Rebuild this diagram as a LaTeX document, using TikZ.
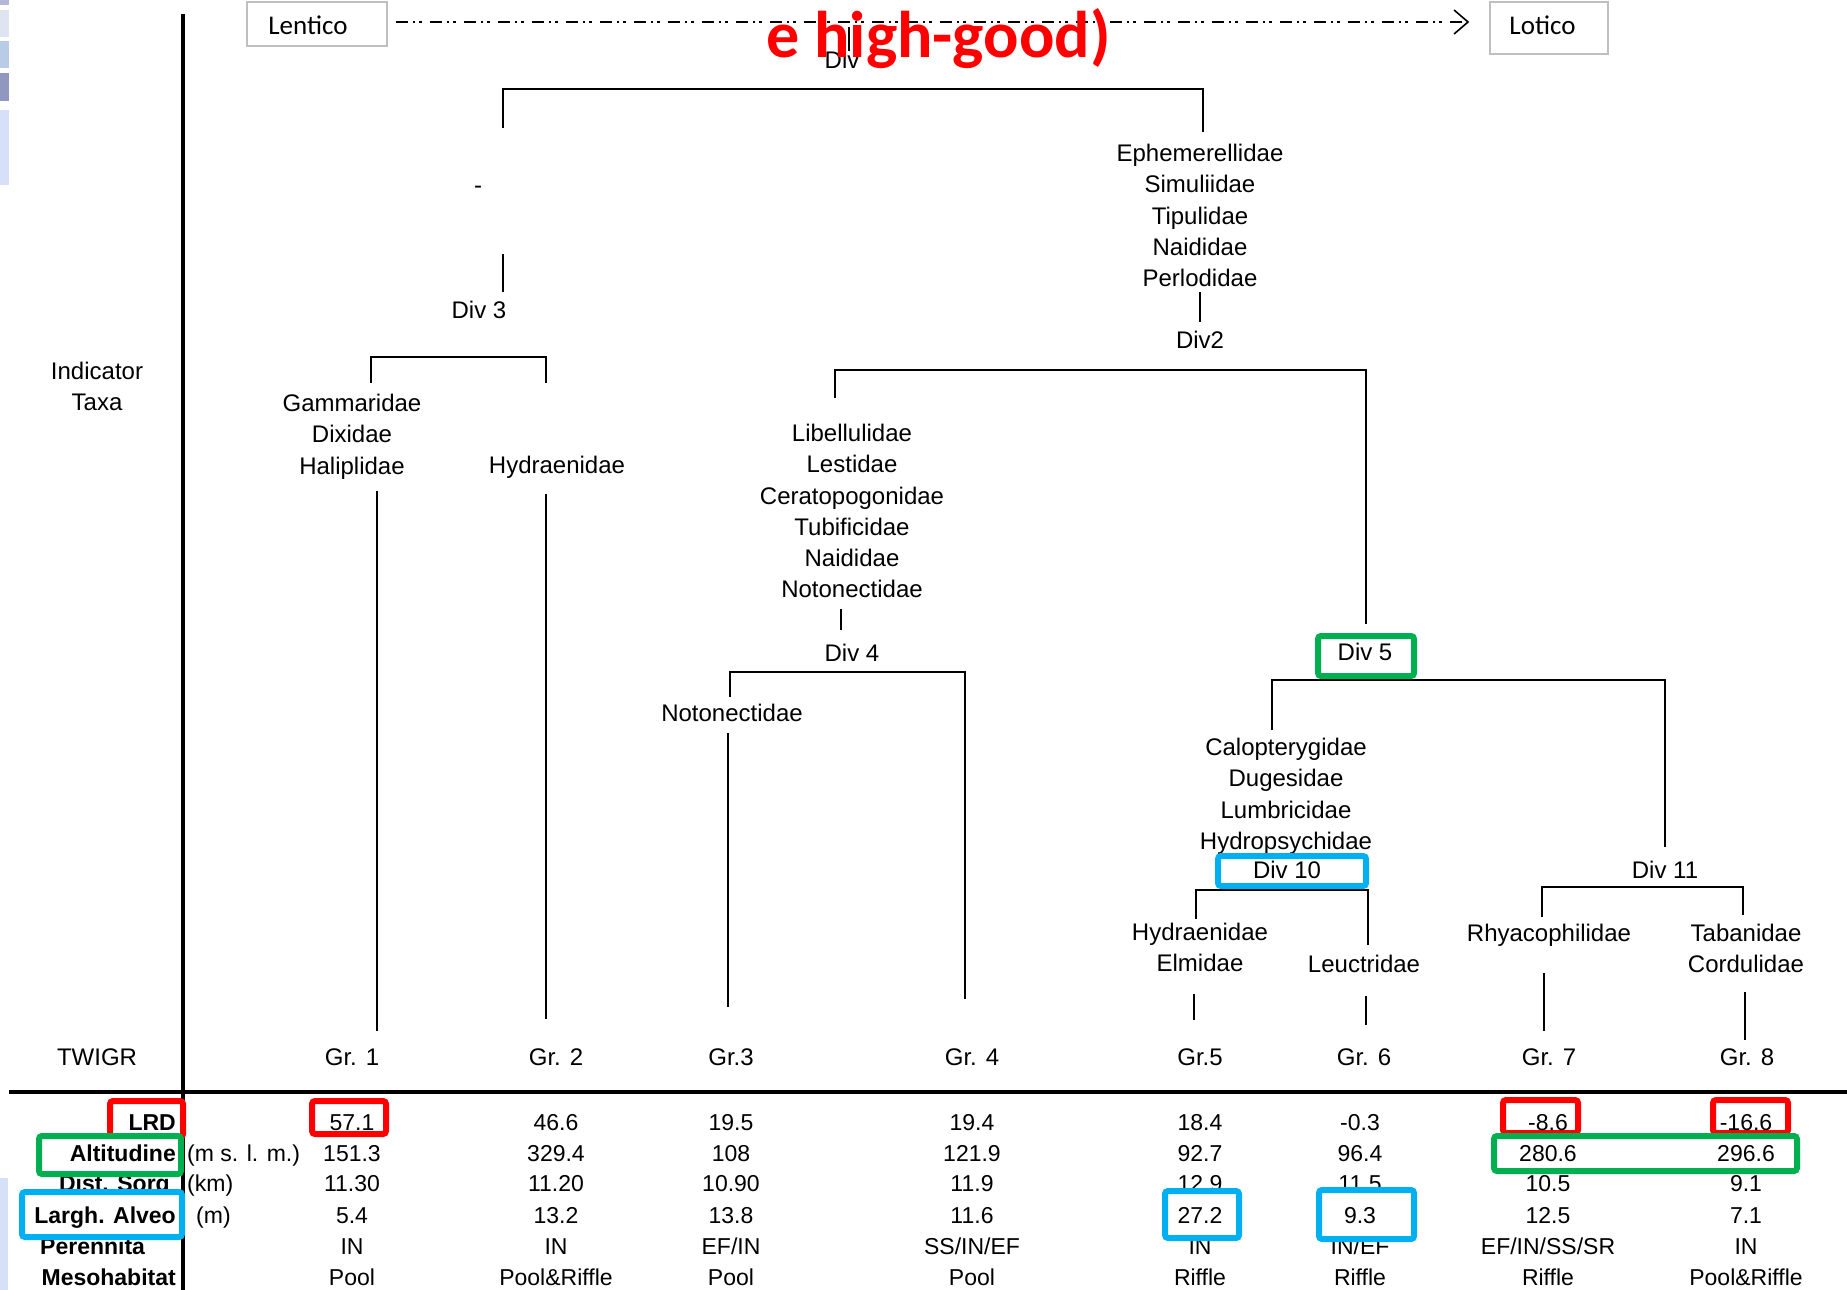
\documentclass[tikz,border=0pt]{standalone}
\usepackage{fontspec}
\setmainfont{Liberation Sans}
\newfontfamily\calib{Carlito}
\usetikzlibrary{arrows.meta,calc}
\definecolor{hlred}{HTML}{FF0000}
\definecolor{hlgreen}{HTML}{00B050}
\definecolor{hlblue}{HTML}{00B0F0}
\definecolor{boxgray}{HTML}{BFBFBF}
\definecolor{resA}{HTML}{B4B8D8}
\definecolor{resB}{HTML}{E0E4F0}
\definecolor{resC}{HTML}{B8CCE8}
\definecolor{resD}{HTML}{9098C0}
\definecolor{resE}{HTML}{D6E0F8}
\begin{document}
\begin{tikzpicture}[x=1pt,y=-1pt,
  tree/.style={line width=2pt},
  axis/.style={line width=4pt},
  lbl/.style={inner sep=0pt, anchor=base, font=\fontsize{24}{31.2}\selectfont},
  grp/.style={inner sep=0pt, anchor=north, align=center, font=\fontsize{24}{31.2}\selectfont},
  cell/.style={inner sep=0pt, anchor=base, font=\fontsize{23}{28}\selectfont},
  rowlbl/.style={inner sep=0pt, anchor=base east, font=\fontsize{23}{28}\selectfont\bfseries},
  unit/.style={inner sep=0pt, anchor=base west, font=\fontsize{23}{28}\selectfont},
  hl/.style={line width=6pt, rounded corners=3pt, fill=white},
  endbox/.style={draw=boxgray, line width=1.5pt, fill=white, inner sep=0pt, font=\calib\fontsize{27}{30}\selectfont, text depth=0pt},
  flow/.style={line width=1.8pt, dash pattern=on 12pt off 5pt on 2.5pt off 4pt on 2.5pt off 8pt, -{Straight Barb[length=14pt,width=24pt,line width=1.6pt]}}
]
\useasboundingbox (0,0) rectangle (1847,1290);
\fill[white] (0,0) rectangle (1847,1290);
% slide residue at left edge
\fill[resA] (0,0) rectangle (9,5);
\fill[resB] (0,10) rectangle (9,37);
\fill[resC] (0,41) rectangle (9,68);
\fill[resD] (0,73) rectangle (9,101);
\fill[resE] (0,110) rectangle (9,185);
\fill[resE] (0,1178) rectangle (8,1290);

% axes
\coordinate (axT) at (182.5,14); \coordinate (axB) at (182.5,1290);
\draw[axis] (axT) -- (axB);
\coordinate (tbL) at (9,1092); \coordinate (tbR) at (1847,1092);
\draw[axis] (tbL) -- (tbR);

% Lentico -> Lotico
\node[endbox, minimum width=140pt, minimum height=44pt, text height=22pt] (lentico) at (317,24) {Lentico\kern18pt};
\node[endbox, minimum width=118pt, minimum height=52pt, text height=14pt] (lotico) at (1549,28) {Lotico\kern13pt};
\draw[flow] ($(lentico.east)+(8,-2)$) -- ($(lotico.west)+(-20,-6)$);

% top Div
\node[lbl] (div1) at (842,68.6) {Div};
\coordinate (d1t) at (849,27);
\draw[line width=1.2pt] (d1t) -- (d1t |- div1.north);

% tree bracket 1
\coordinate (b1l) at (503,128); \coordinate (b1r) at (1203,132);
\draw[tree] (b1l) -- (503,89) -- (1203,89) -- (b1r);
\node[lbl] (dash) at (478,193.6) {-};
\coordinate (s3a) at (503,254); \coordinate (s3b) at (503,292);
\draw[tree] (s3a) -- (s3b);
\node[lbl] (div3) at (479,318.6) {Div 3};
\coordinate (b3l) at (371,383); \coordinate (b3r) at (546,383);
\draw[tree] (b3l) -- (371,357) -- (546,357) -- (b3r);
\node[grp] (gam) at (352,394.1) {Gammaridae\\Dixidae\\Haliplidae};
\node[lbl] (hydr) at (557,473.6) {Hydraenidae};
\coordinate (g1a) at (377,491); \coordinate (g1b) at (377,1031);
\draw[tree] (g1a) -- (g1b);
\coordinate (g2a) at (546,494); \coordinate (g2b) at (546,1019);
\draw[tree] (g2a) -- (g2b);

% right branch
\node[grp] (eph) at (1200,144.1) {Ephemerellidae\\Simuliidae\\Tipulidae\\Naididae\\Perlodidae};
\coordinate (s2a) at (1200,292); \coordinate (s2b) at (1200,322);
\draw[tree] (s2a) -- (s2b);
\node[lbl] (div2) at (1200,348.6) {Div2};
\coordinate (b2l) at (835,398); \coordinate (b2r) at (1366,624);
\draw[tree] (b2l) -- (835,370) -- (1366,370) -- (b2r);
\node[grp] (lib) at (852,424.1) {Libellulidae\\Lestidae\\Ceratopogonidae\\Tubificidae\\Naididae\\Notonectidae};
\coordinate (s4a) at (841,609); \coordinate (s4b) at (841,630);
\draw[tree] (s4a) -- (s4b);
\node[lbl] (div4) at (852,661.6) {Div 4};
\coordinate (b4l) at (730,697); \coordinate (b4r) at (965,999);
\draw[tree] (b4l) -- (730,672) -- (965,672) -- (b4r);
\node[lbl] (noto) at (732,721.6) {Notonectidae};
\coordinate (g3a) at (728,733); \coordinate (g3b) at (728,1007);
\draw[tree] (g3a) -- (g3b);

% Div 5 subtree
\coordinate (b5l) at (1272,730); \coordinate (b5r) at (1665,847);
\draw[tree] (b5l) -- (1272,680) -- (1665,680) -- (b5r);
\draw[hl, draw=hlgreen] (1318,636) rectangle (1414,676);
\node[lbl] (div5) at (1365,660.6) {Div 5};
\node[grp] (calo) at (1286,738.1) {Calopterygidae\\Dugesidae\\Lumbricidae\\Hydropsychidae};
\coordinate (b10l) at (1196,919); \coordinate (b10r) at (1368,945);
\draw[tree] (b10l) -- (1196,890) -- (1368,890) -- (b10r);
\draw[hl, draw=hlblue] (1218,856) rectangle (1366,886);
\node[lbl] (div10) at (1287,878.6) {Div 10};
\node[grp] (hyd2) at (1200,923.1) {Hydraenidae\\Elmidae};
\node[lbl] (leuc) at (1364,972.6) {Leuctridae};
\coordinate (g5a) at (1194,994); \coordinate (g5b) at (1194,1020);
\draw[tree] (g5a) -- (g5b);
\coordinate (g6a) at (1366,996); \coordinate (g6b) at (1366,1025);
\draw[tree] (g6a) -- (g6b);
\node[lbl] (div11) at (1665,878.6) {Div 11};
\coordinate (b11l) at (1542,917); \coordinate (b11r) at (1743,915);
\draw[tree] (b11l) -- (1542,887) -- (1743,887) -- (b11r);
\node[lbl] (rhya) at (1549,941.6) {Rhyacophilidae};
\node[grp] (taba) at (1746,924.1) {Tabanidae\\Cordulidae};
\coordinate (g7a) at (1544,973); \coordinate (g7b) at (1544,1031);
\draw[tree] (g7a) -- (g7b);
\coordinate (g8a) at (1745,992); \coordinate (g8b) at (1745,1040);
\draw[tree] (g8a) -- (g8b);

% left labels
\node[grp] (indic) at (97,362.1) {Indicator\\Taxa};
\node[lbl] (twigr) at (97,1065.6) {TWIGR};
\node[lbl] (gr1) at (352,1065.6) {Gr. 1};
\node[lbl] (gr2) at (556,1065.6) {Gr. 2};
\node[lbl] (gr3) at (731,1065.6) {Gr.3};
\node[lbl] (gr4) at (972,1065.6) {Gr. 4};
\node[lbl] (gr5) at (1200,1065.6) {Gr.5};
\node[lbl] (gr6) at (1364,1065.6) {Gr. 6};
\node[lbl] (gr7) at (1549,1065.6) {Gr. 7};
\node[lbl] (gr8) at (1747,1065.6) {Gr. 8};

% table, plain cells
\def\colx{{352,556,731,972,1200,1360,1548,1746}}
\node[rowlbl] (rDist) at (170,1191.2) {Dist. Sorg};
\node[rowlbl, anchor=base west] (rPer) at (40,1254.2) {Perennita};
\node[rowlbl] (rMeso) at (176,1285.2) {Mesohabitat};
\node[unit] (uAlt) at (187,1161.2) {(m s. l. m.)};
\node[unit] (uDist) at (187,1191.2) {(km)};
\node[unit] (uLar) at (196,1223.2) {(m)};

\node[cell] (c12) at (556,1130.2) {46.6};
\node[cell] (c13) at (731,1130.2) {19.5};
\node[cell] (c14) at (972,1130.2) {19.4};
\node[cell] (c15) at (1200,1130.2) {18.4};
\node[cell] (c16) at (1360,1130.2) {-0.3};

\node[cell] (c21) at (352,1161.2) {151.3};
\node[cell] (c22) at (556,1161.2) {329.4};
\node[cell] (c23) at (731,1161.2) {108};
\node[cell] (c24) at (972,1161.2) {121.9};
\node[cell] (c25) at (1200,1161.2) {92.7};
\node[cell] (c26) at (1360,1161.2) {96.4};

\foreach \v [count=\i] in {11.30,11.20,10.90,11.9,12.9,11.5,10.5,9.1}{
  \pgfmathsetmacro\cx{\colx[\i-1]}
  \node[cell] (c3\i) at (\cx,1191.2) {\v};
}
\node[cell] (c41) at (352,1223.2) {5.4};
\node[cell] (c42) at (556,1223.2) {13.2};
\node[cell] (c43) at (731,1223.2) {13.8};
\node[cell] (c44) at (972,1223.2) {11.6};
\node[cell] (c47) at (1548,1223.2) {12.5};
\node[cell] (c48) at (1746,1223.2) {7.1};
\foreach \v [count=\i] in {IN,IN,EF/IN,SS/IN/EF,IN,IN/EF,EF/IN/SS/SR,IN}{
  \pgfmathsetmacro\cx{\colx[\i-1]}
  \node[cell] (c5\i) at (\cx,1254.2) {\v};
}
\foreach \v [count=\i] in {Pool,Pool\&Riffle,Pool,Pool,Riffle,Riffle,Riffle,Pool\&Riffle}{
  \pgfmathsetmacro\cx{\colx[\i-1]}
  \node[cell] (c6\i) at (\cx,1285.2) {\v};
}

% highlight boxes
\draw[hl, draw=hlred] (110,1101) rectangle (183,1137);
\draw[hl, draw=hlred] (312,1101) rectangle (386,1134);
\draw[hl, draw=hlred] (1503,1100) rectangle (1578,1133);
\draw[hl, draw=hlred] (1713,1100) rectangle (1788,1133);
\draw[hl, draw=hlgreen] (39,1136) rectangle (181,1174);
\draw[hl, draw=hlgreen] (1494,1136) rectangle (1797,1171);
\draw[hl, draw=hlblue] (22,1192) rectangle (182,1237);
\draw[hl, draw=hlblue] (1165,1191) rectangle (1239,1238);
\draw[hl, draw=hlblue] (1319,1190) rectangle (1414,1239);

% boxed cells
\node[rowlbl] (rLRD) at (176,1130.2) {LRD};
\node[rowlbl] (rAlt) at (176,1161.2) {Altitudine};
\node[rowlbl] (rLar) at (176,1223.2) {Largh. Alveo};
\node[cell] (c11) at (352,1130.2) {57.1};
\node[cell] (c17) at (1548,1130.2) {-8.6};
\node[cell] (c18) at (1746,1130.2) {-16.6};
\node[cell] (c27) at (1548,1161.2) {280.6};
\node[cell] (c28) at (1746,1161.2) {296.6};
\node[cell] (c45) at (1200,1223.2) {27.2};
\node[cell] (c46) at (1360,1223.2) {9.3};

% overlay title fragment
\node[anchor=base west, inner sep=0pt, text=hlred, font=\calib\bfseries\fontsize{66}{70}\selectfont] (warn) at (766,58) {e high-good)};
\end{tikzpicture}
\end{document}
